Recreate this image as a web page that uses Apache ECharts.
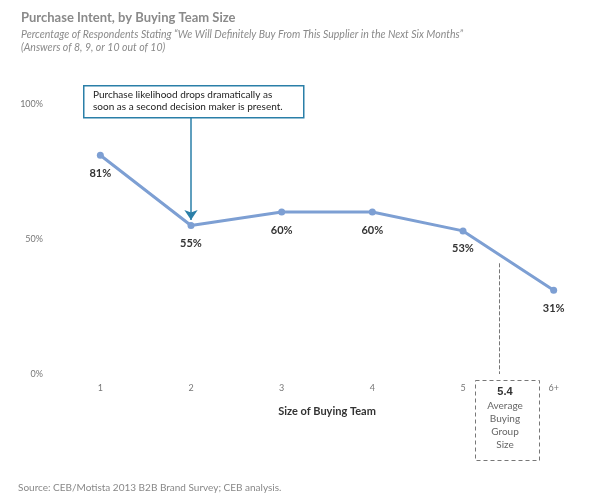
<!DOCTYPE html>
<html>
<head>
<meta charset="UTF-8"/>
<title>Purchase Intent</title>
<script src="https://cdn.jsdelivr.net/npm/echarts@6/dist/echarts.min.js"></script>
<style>body{margin:0;background:#fff;}</style>
</head>
<body>
<div id="main" style="width:603px;height:500px;"></div>
<script>
    // data
    var teamSizes = [1, 2, 3, 4, 5, 6];
    var sizeLabels = ['1', '2', '3', '4', '5', '6+'];
    var intentPct = [81, 55, 60, 60, 53, 31];
    var avgGroupSize = 5.4;

    var blue = '#7d9fd3';
    var myChart = echarts.init(document.getElementById('main'));
    var font = 'Lato, "Open Sans", sans-serif';

    var option = {
        textStyle: {fontFamily: font},
        title: {
            text: 'Purchase Intent, by Buying Team Size',
            subtext: 'Percentage of Respondents Stating \u201cWe Will Definitely Buy From This Supplier in the Next Six Months\u201d\n(Answers of 8, 9, or 10 out of 10)',
            left: 16, top: 6, itemGap: 4,
            textStyle: {fontSize: 13, fontWeight: 'bold', color: '#8a8a8a', fontFamily: font},
            subtextStyle: {fontSize: 10.5, fontStyle: 'italic', color: '#8a8a8a', lineHeight: 13, fontFamily: font}
        },
        grid: {left: 55, right: 4, top: 104, bottom: 126},
        xAxis: {
            type: 'value', min: 0.5, max: 6.5,
            name: 'Size of Buying Team', nameLocation: 'middle', nameGap: 32,
            nameTextStyle: {fontSize: 11, fontWeight: 'bold', color: '#333'},
            axisLine: {show: false}, axisTick: {show: false}, splitLine: {show: false},
            axisLabel: {
                customValues: teamSizes, fontSize: 9, color: '#777', margin: 10,
                formatter: function (v) { return sizeLabels[teamSizes.indexOf(v)]; }
            }
        },
        yAxis: {
            type: 'value', min: 0, max: 100, interval: 50,
            axisLine: {show: false}, axisTick: {show: false},
            splitLine: {show: false},
            axisLabel: {formatter: '{value}%', fontSize: 9, color: '#777', margin: 12}
        },
        series: [{
            type: 'line',
            data: teamSizes.map(function (s, i) { return [s, intentPct[i]]; }),
            lineStyle: {color: blue, width: 3},
            itemStyle: {color: blue},
            symbol: 'circle', symbolSize: 7,
            label: {
                show: true, position: 'bottom', distance: 9,
                formatter: function (p) { return p.value[1] + '%'; },
                fontSize: 11, fontWeight: 'bold', color: '#333'
            },
            markLine: {
                silent: true, label: {show: false},
                data: [
                    [{coord: [2, 95], symbol: 'none', lineStyle: {color: '#2a7fa8', width: 1.5, type: 'solid'}},
                     {coord: [2, 57], symbol: 'arrow', symbolSize: 10}],
                    [{coord: [avgGroupSize, 41], symbol: 'none', lineStyle: {color: '#777', width: 1, type: 'dashed'}},
                     {coord: [avgGroupSize, 0], symbol: 'none'}]
                ]
            }
        }],
        graphic: [
            {type: 'rect', left: 83, top: 85, shape: {width: 220, height: 32},
             style: {fill: '#fff', stroke: '#2a7fa8', lineWidth: 1.5}},
            {type: 'text', left: 93, top: 89,
             style: {text: 'Purchase likelihood drops dramatically as\nsoon as a second decision maker is present.',
                     fontSize: 10, lineHeight: 12, fill: '#222', fontFamily: font}},
            {type: 'rect', left: 473, top: 378, shape: {width: 64, height: 80},
             style: {fill: 'none', stroke: '#777', lineWidth: 1, lineDash: [4, 3]}},
            {type: 'text', x: 505, y: 385,
             style: {text: '{b|5.4}\nAverage\nBuying\nGroup\nSize', align: 'center', fontSize: 10,
                     lineHeight: 13, fill: '#666', fontFamily: font,
                     rich: {b: {fontSize: 11, fontWeight: 'bold', fill: '#333', lineHeight: 14}}}},
            {type: 'text', left: 18, top: 483,
             style: {text: 'Source: CEB/Motista 2013 B2B Brand Survey; CEB analysis.', fontSize: 10, fill: '#888', fontFamily: font}}
        ]
    };
    myChart.setOption(option);
</script>
</body>
</html>
